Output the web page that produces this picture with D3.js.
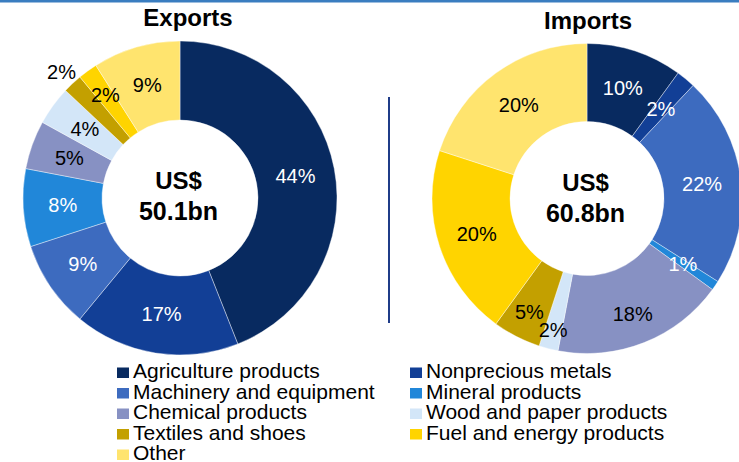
<!DOCTYPE html>
<html>
<head>
<meta charset="utf-8">
<script src="https://cdn.jsdelivr.net/npm/d3@7/dist/d3.min.js"></script>
<style>
  html, body { margin: 0; padding: 0; background: #fff; }
  svg { display: block; font-family: "Liberation Sans", Arial, sans-serif; }
</style>
</head>
<body>
<svg id="chart" width="739" height="462"></svg>
<script>
// ---- data ----
const categories = [
  "Agriculture products", "Nonprecious metals", "Machinery and equipment",
  "Mineral products", "Chemical products", "Wood and paper products",
  "Textiles and shoes", "Fuel and energy products", "Other"
];
const exportsValues = [44, 17, 9, 8, 5, 4, 2, 2, 9];
const importsValues = [10, 2, 22, 1, 18, 2, 5, 20, 20];
const chartTitles = ["Exports", "Imports"];
const totals = ["50.1bn", "60.8bn"];
const currency = "US$";

// ---- styles ----
const colors = ["#082a60", "#123f96", "#3d6bbf", "#2187d9", "#8791c3",
                "#d3e6f8", "#c3a000", "#ffd400", "#ffe46e"];
const whiteText = new Set([0, 1, 2, 3]);

const svg = d3.select("#chart");
svg.append("rect").attr("x", 0).attr("y", 0).attr("width", 739).attr("height", 2.5)
  .attr("fill", "#3a7dc0");

const color = d3.scaleOrdinal().domain(categories).range(colors);

// label radius overrides (by chart, by category index)
const labelRadius = [
  {6: 173, 7: 127},
  {4: 124, 5: 136, 6: 127}
];

const charts = [
  {values: exportsValues, cx: 180, cy: 198, r: 157, ri: 78, titleX: 188, titleY: 26, total: totals[0]},
  {values: importsValues, cx: 587, cy: 198.5, r: 155, ri: 77, titleX: 588, titleY: 29, total: totals[1]}
];

const pie = d3.pie().sort(null).value(d => d.value);

charts.forEach((c, ci) => {
  const data = categories.map((name, i) => ({name, i, value: c.values[i]}));
  const arcs = pie(data);
  const arc = d3.arc().innerRadius(c.ri).outerRadius(c.r);
  const g = svg.append("g").attr("transform", `translate(${c.cx},${c.cy})`);

  g.selectAll("path").data(arcs).join("path")
    .attr("d", arc)
    .attr("fill", d => color(d.data.name))
    .attr("stroke", "#ffffff")
    .attr("stroke-width", 0.4);

  g.selectAll("text.pct").data(arcs).join("text")
    .attr("class", "pct")
    .attr("transform", d => {
      const a = (d.startAngle + d.endAngle) / 2;
      const rr = labelRadius[ci][d.data.i] !== undefined ? labelRadius[ci][d.data.i] : (c.r + c.ri) / 2;
      return `translate(${rr * Math.sin(a)},${-rr * Math.cos(a) + 7})`;
    })
    .attr("text-anchor", "middle")
    .attr("font-size", 20)
    .attr("fill", d => {
      const rr = labelRadius[ci][d.data.i];
      if (rr !== undefined && rr > c.r) return "#000";
      return whiteText.has(d.data.i) ? "#fff" : "#000";
    })
    .text(d => d3.format("d")(d.data.value) + "%");

  g.append("text").attr("x", -1.5).attr("y", -9 + (ci ? 1 : 0))
    .attr("text-anchor", "middle").attr("font-size", 24).attr("font-weight", "bold")
    .attr("fill", "#000").text(currency);
  g.append("text").attr("x", -1.5).attr("y", 22 + (ci ? 1 : 0))
    .attr("text-anchor", "middle").attr("font-size", 25).attr("font-weight", "bold")
    .attr("fill", "#000").text(c.total);

  svg.append("text").attr("x", c.titleX).attr("y", c.titleY)
    .attr("text-anchor", "middle").attr("font-size", 24).attr("font-weight", "bold")
    .attr("fill", "#000").text(chartTitles[ci]);
});

// divider
svg.append("line").attr("x1", 389).attr("x2", 389).attr("y1", 97).attr("y2", 323)
  .attr("stroke", "#1f3c88").attr("stroke-width", 2);

// legend
const colX = [117, 410];
const rowY = d3.scaleLinear().domain([0, 4]).range([378, 460]);
const legend = svg.append("g");
categories.forEach((name, i) => {
  const col = i % 2, row = Math.floor(i / 2);
  const x = colX[col], y = rowY(row);
  legend.append("rect").attr("x", x).attr("y", y - 10.5).attr("width", 12).attr("height", 10.5)
    .attr("fill", color(name));
  legend.append("text").attr("x", x + 16).attr("y", y)
    .attr("font-size", 21).attr("fill", "#000").text(name);
});
</script>
</body>
</html>
